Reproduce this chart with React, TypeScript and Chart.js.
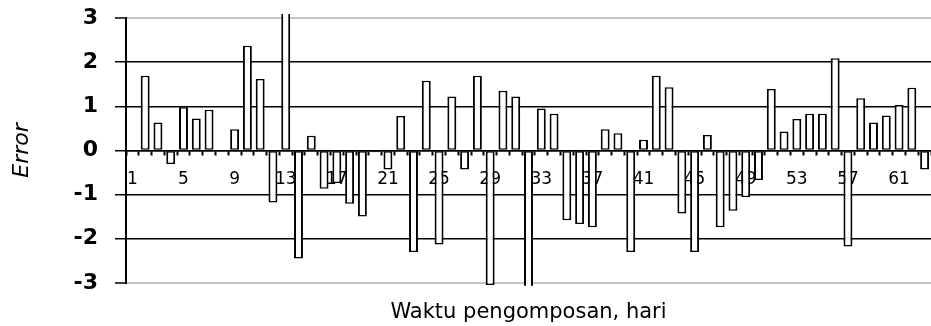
import React, { useEffect, useRef } from "react";
import { Chart, registerables } from "chart.js";

Chart.register(...registerables);

const days: string[] = Array.from({ length: 63 }, (_, i) => String(i + 1));

const errorValues: number[] = [
  0, 1.69, 0.63, -0.31, 0.98, 0.72, 0.92, 0, 0.48, 2.37,
  1.62, -1.18, 3.3, -2.45, 0.33, -0.87, -0.74, -1.21, -1.5, -0.04,
  -0.43, 0.78, -2.3, 1.58, -2.13, 1.22, -0.43, 1.69, -3.05, 1.35,
  1.22, -3.3, 0.95, 0.83, -1.58, -1.67, -1.74, 0.48, 0.39, -2.3,
  0.24, 1.69, 1.43, -1.43, -2.3, 0.35, -1.74, -1.37, -1.06, -0.67,
  1.39, 0.43, 0.71, 0.83, 0.83, 2.09, -2.18, 1.18, 0.63, 0.79,
  1.03, 1.42, -0.43,
];

const yMin = -3;
const yMax = 3;
const yStep = 1;
const xLabelEvery = 4;

const xTitle = "Waktu pengomposan, hari";
const yTitle = "Error";

export default function App() {
  const canvasRef = useRef<HTMLCanvasElement | null>(null);

  useEffect(() => {
    if (!canvasRef.current) return;
    const chart = new Chart(canvasRef.current, {
      type: "bar",
      data: {
        labels: days,
        datasets: [
          {
            data: errorValues,
            backgroundColor: "#ffffff",
            borderColor: "#000000",
            borderWidth: { top: 1.5, bottom: 1.5, left: 2, right: 2 } as any,
            borderSkipped: false,
            barPercentage: 0.7,
            categoryPercentage: 1,
            clip: { left: false, right: false, top: 4, bottom: 3 } as any,
          },
        ],
      },
      options: {
        animation: false,
        responsive: false,
        layout: { padding: { top: 18, right: 0, bottom: 0, left: 0 } },
        plugins: {
          legend: { display: false },
          tooltip: { enabled: false },
          title: {
            display: true,
            text: xTitle,
            position: "bottom",
            fullSize: false,
            color: "#000",
            font: { family: "DejaVu Sans", size: 21, weight: "normal" },
            padding: { top: 17, bottom: 1 },
          },
        },
        scales: {
          x: {
            type: "category",
            position: { y: 0 } as any,
            offset: true,
            afterFit: (scale: any) => {
              scale.paddingRight = 0;
              scale.paddingLeft = 0;
              scale.paddingTop = 0;
              scale.paddingBottom = 0;
            },
            grid: {
              display: true,
              drawOnChartArea: false,
              offset: true,
              tickLength: 4,
              tickColor: "#000",
              tickWidth: 2,
              color: "#000",
            },
            border: { display: true, color: "#000", width: 1.5 },
            ticks: {
              autoSkip: false,
              maxRotation: 0,
              minRotation: 0,
              padding: 15,
              color: "#000",
              font: { family: "DejaVu Sans", size: 17 },
              callback: (_v: any, index: number) =>
                index % xLabelEvery === 0 ? days[index] : "",
            },
          },
          y: {
            min: yMin,
            max: yMax,
            afterFit: (scale: any) => {
              scale.width = 126;
              scale.paddingTop = 0;
              scale.paddingBottom = 0;
            },
            grid: {
              color: (ctx: any) =>
                ctx.tick && Math.abs(ctx.tick.value) === 3 ? "#c4c4c4" : "#000",
              lineWidth: (ctx: any) =>
                ctx.tick && Math.abs(ctx.tick.value) === 3 ? 2 : 1.5,
              tickLength: 11,
              tickColor: "#000",
              tickWidth: 1.5,
            },
            border: { display: true, color: "#000", width: 2 },
            ticks: {
              stepSize: yStep,
              padding: 17,
              color: "#000",
              font: { family: "DejaVu Sans", size: 22, weight: "bold" },
            },
            title: {
              display: true,
              text: yTitle,
              color: "#000",
              font: { family: "DejaVu Sans", size: 22, style: "italic", weight: "normal" },
              padding: { top: 9, bottom: 0 },
            },
          },
        },
      },
    });
    return () => chart.destroy();
  }, []);

  return (
    <div style={{ width: 931, height: 326 }}>
      <style>{`body{margin:0}`}</style>
      <canvas ref={canvasRef} width={931} height={326} style={{ display: "block" }} />
    </div>
  );
}
